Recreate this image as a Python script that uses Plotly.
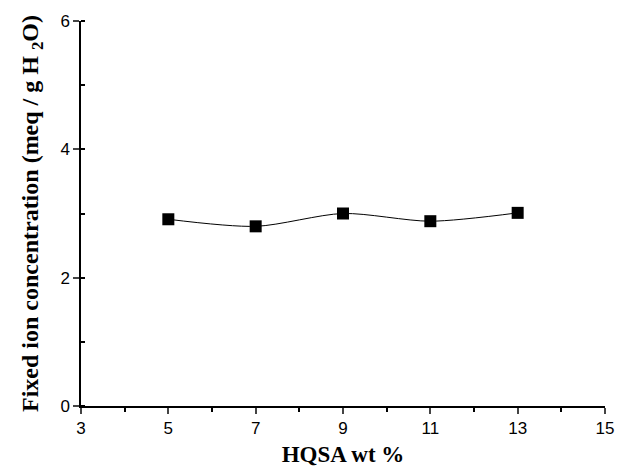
import plotly.graph_objects as go

hqsa_wt = [5, 7, 9, 11, 13]
fixed_ion = [2.91, 2.80, 3.00, 2.88, 3.01]
x_ticks = [3, 5, 7, 9, 11, 13, 15]
y_ticks = [0, 2, 4, 6]

fig = go.Figure()
fig.add_trace(go.Scatter(
    x=hqsa_wt, y=fixed_ion, mode="lines+markers",
    line=dict(color="black", width=1, shape="spline", smoothing=0.8),
    marker=dict(symbol="square", size=12, color="black"),
    showlegend=False,
))

serif = "Liberation Serif, Times New Roman"
fig.update_layout(
    width=627, height=475,
    margin=dict(l=81, r=22, t=14, b=64),
    plot_bgcolor="white", paper_bgcolor="white",
    font=dict(family="Liberation Sans, Arial", color="black", size=17),
)
fig.update_xaxes(
    range=[3, 15], tickvals=x_ticks, ticks="outside", ticklen=6, tickwidth=1.5,
    showline=True, linecolor="black", linewidth=1.5, showgrid=False, zeroline=False,
    minor=dict(dtick=1, ticks="outside", ticklen=4, tickcolor="black", tickwidth=1.5),
    title=dict(text="HQSA wt %", font=dict(family=serif, size=23, weight="bold"), standoff=9),
)
fig.update_yaxes(
    range=[0, 6], tickvals=y_ticks, ticks="outside", ticklen=6, tickwidth=1.5,
    showline=True, linecolor="black", linewidth=1.5, showgrid=False, zeroline=False,
    minor=dict(dtick=1, ticks="inside", ticklen=4, tickcolor="black", tickwidth=1.5),
    title=dict(text="Fixed ion concentration (meq / g H <sub>2</sub>O)", font=dict(family=serif, size=24, weight="bold"), standoff=15),
)

fig.write_html("out.html")
